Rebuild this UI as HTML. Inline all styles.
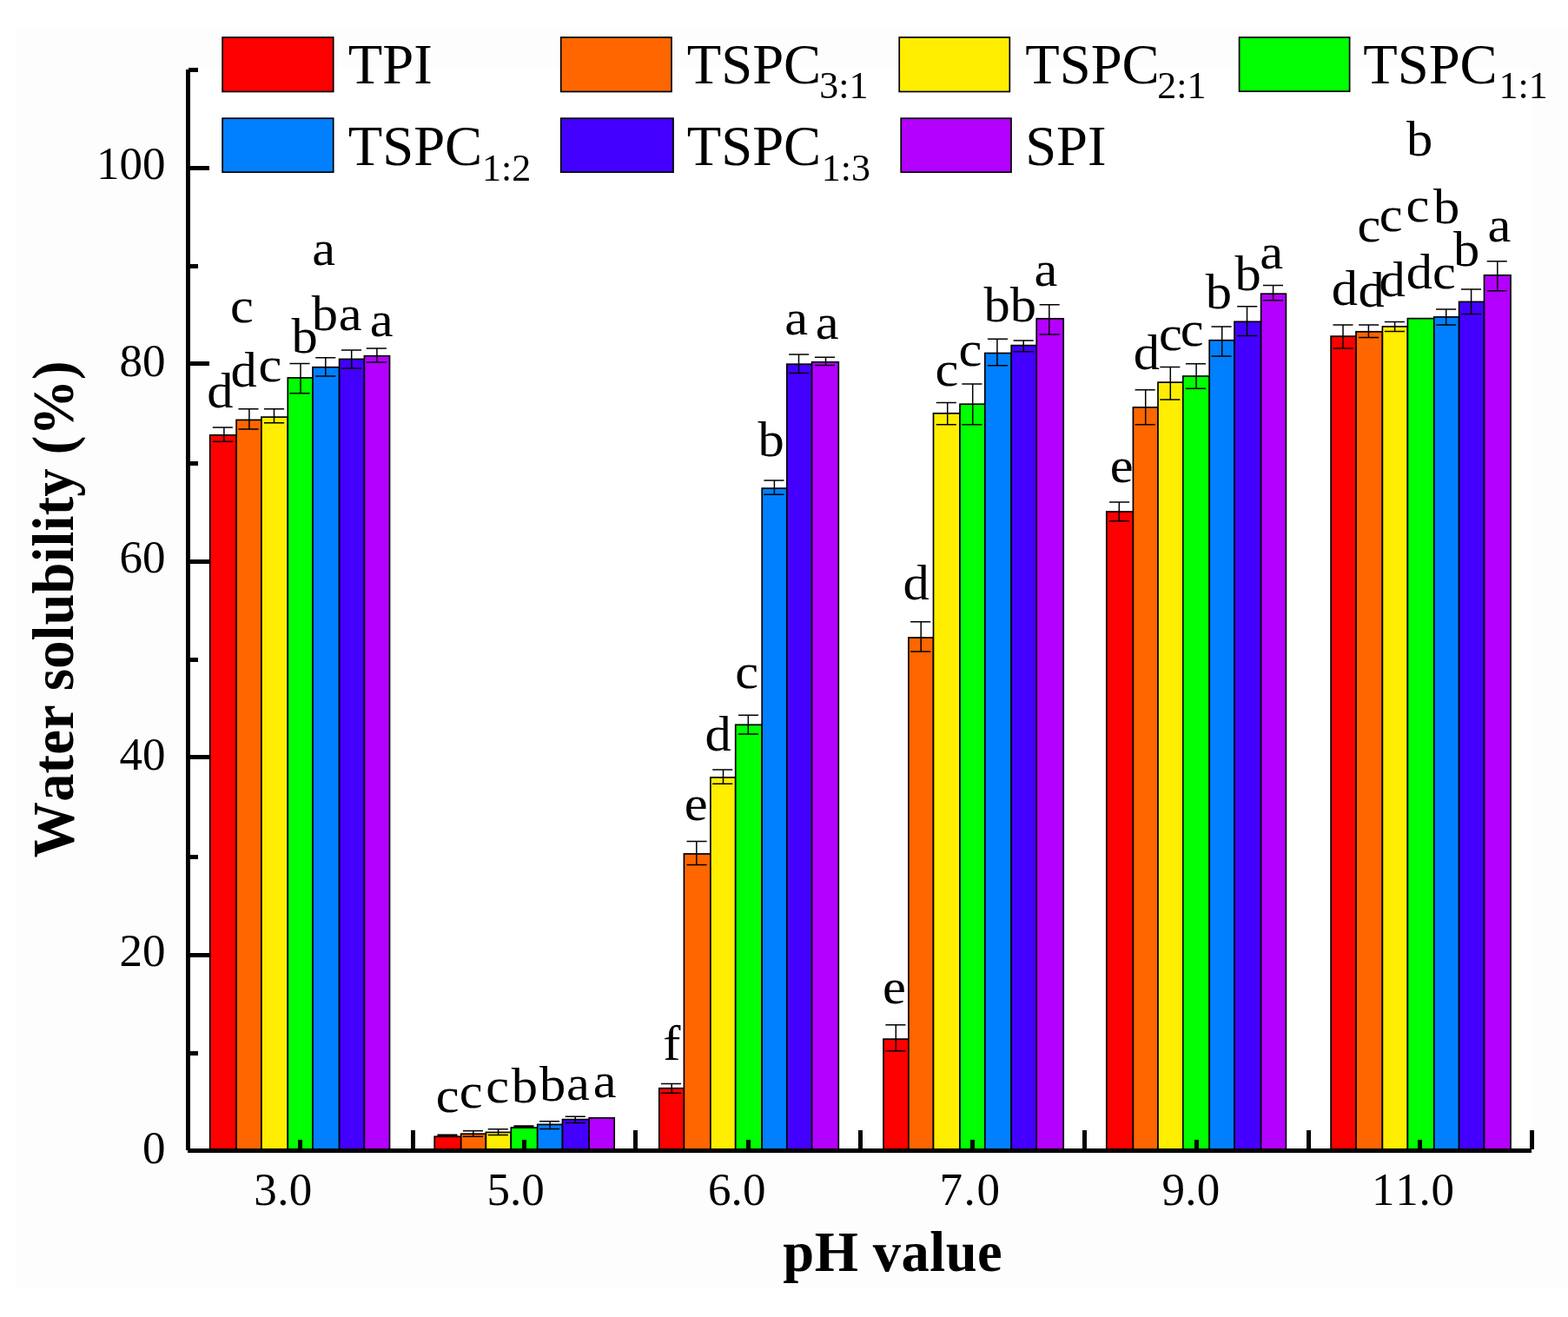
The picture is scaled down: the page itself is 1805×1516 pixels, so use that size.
<!DOCTYPE html>
<html lang="en"><head><meta charset="utf-8"><title>Water solubility vs pH value</title>
<style>html,body{margin:0;padding:0;background:#fff;}body{width:1805px;height:1516px;overflow:hidden;}svg{display:block;}text{font-family:"Liberation Serif",serif;fill:#000;font-kerning:none;}.b{font-weight:bold;}</style></head><body>
<svg width="1805" height="1516" viewBox="0 0 1805 1516">
<rect x="0" y="0" width="1805" height="1516" fill="#ffffff"/>
<rect x="18" y="32.5" width="1786.5" height="1449.7" fill="#fdfdfd"/>
<rect x="216.6" y="79" width="1546.9" height="1245.6" fill="#ffffff"/>
<g stroke="#000" stroke-width="1.7">
<rect x="241.7" y="500.8" width="30.4" height="823.7" fill="#FF0000"/>
<rect x="272.1" y="483.4" width="28.8" height="841.1" fill="#FF6600"/>
<rect x="300.9" y="480.1" width="30.4" height="844.4" fill="#FFEE00"/>
<rect x="331.3" y="434.9" width="28.7" height="889.6" fill="#00FF00"/>
<rect x="360.0" y="422.7" width="30.6" height="901.8" fill="#0080FF"/>
<rect x="390.6" y="413.4" width="28.8" height="911.1" fill="#4400FF"/>
<rect x="419.4" y="409.7" width="29.1" height="914.8" fill="#B400FF"/>
<rect x="500.2" y="1308.3" width="30.5" height="16.2" fill="#FF0000"/>
<rect x="530.7" y="1305.2" width="28.7" height="19.3" fill="#FF6600"/>
<rect x="559.4" y="1303.4" width="28.9" height="21.1" fill="#FFEE00"/>
<rect x="588.3" y="1298.0" width="30.4" height="26.5" fill="#00FF00"/>
<rect x="618.7" y="1294.4" width="28.8" height="30.1" fill="#0080FF"/>
<rect x="647.5" y="1288.6" width="30.6" height="35.9" fill="#4400FF"/>
<rect x="678.1" y="1286.9" width="29.1" height="37.6" fill="#B400FF"/>
<rect x="758.8" y="1252.7" width="28.6" height="71.8" fill="#FF0000"/>
<rect x="787.4" y="982.9" width="30.5" height="341.6" fill="#FF6600"/>
<rect x="817.9" y="894.9" width="28.8" height="429.6" fill="#FFEE00"/>
<rect x="846.7" y="834.3" width="30.5" height="490.2" fill="#00FF00"/>
<rect x="877.2" y="562.1" width="28.6" height="762.4" fill="#0080FF"/>
<rect x="905.8" y="419.2" width="28.8" height="905.3" fill="#4400FF"/>
<rect x="934.6" y="416.8" width="30.7" height="907.7" fill="#B400FF"/>
<rect x="1017.0" y="1196.1" width="28.9" height="128.4" fill="#FF0000"/>
<rect x="1045.9" y="734.0" width="28.6" height="590.5" fill="#FF6600"/>
<rect x="1074.5" y="475.8" width="30.5" height="848.7" fill="#FFEE00"/>
<rect x="1105.0" y="465.2" width="28.8" height="859.3" fill="#00FF00"/>
<rect x="1133.8" y="406.5" width="30.4" height="918.0" fill="#0080FF"/>
<rect x="1164.2" y="397.6" width="29.0" height="926.9" fill="#4400FF"/>
<rect x="1193.2" y="366.8" width="31.0" height="957.7" fill="#B400FF"/>
<rect x="1273.8" y="589.0" width="30.6" height="735.5" fill="#FF0000"/>
<rect x="1304.4" y="468.9" width="28.6" height="855.6" fill="#FF6600"/>
<rect x="1333.0" y="440.1" width="28.8" height="884.4" fill="#FFEE00"/>
<rect x="1361.8" y="433.0" width="30.4" height="891.5" fill="#00FF00"/>
<rect x="1392.2" y="391.7" width="28.8" height="932.8" fill="#0080FF"/>
<rect x="1421.0" y="370.3" width="30.6" height="954.2" fill="#4400FF"/>
<rect x="1451.6" y="338.2" width="28.8" height="986.3" fill="#B400FF"/>
<rect x="1532.1" y="387.1" width="28.9" height="937.4" fill="#FF0000"/>
<rect x="1561.0" y="381.8" width="30.4" height="942.7" fill="#FF6600"/>
<rect x="1591.4" y="375.9" width="29.0" height="948.6" fill="#FFEE00"/>
<rect x="1620.4" y="366.6" width="30.4" height="957.9" fill="#00FF00"/>
<rect x="1650.8" y="364.9" width="28.8" height="959.6" fill="#0080FF"/>
<rect x="1679.6" y="347.4" width="28.9" height="977.1" fill="#4400FF"/>
<rect x="1708.5" y="316.8" width="30.5" height="1007.7" fill="#B400FF"/>
</g>
<g stroke="#000" stroke-width="1.5" fill="none">
<path d="M244.8 491.9H267.9M244.8 508.2H267.9M257.9 491.9V508.2"/>
<path d="M274.4 470.7H297.5M274.4 494.1H297.5M286.9 470.7V494.1"/>
<path d="M304.0 470.7H327.1M304.0 486.7H327.1M315.5 470.7V486.7"/>
<path d="M333.5 418.6H356.6M333.5 452.8H356.6M346.0 418.6V452.8"/>
<path d="M363.2 411.8H386.3M363.2 433.0H386.3M374.8 411.8V433.0"/>
<path d="M392.9 402.9H416.0M392.9 424.0H416.0M404.7 402.9V424.0"/>
<path d="M421.8 401.0H444.9M421.8 417.0H444.9M433.9 401.0V417.0"/>
<path d="M503.4 1306.3H526.5M503.4 1307.6H526.5M515.6 1306.3V1307.6"/>
<path d="M532.9 1301.7H556.0M532.9 1308.3H556.0M544.8 1301.7V1308.3"/>
<path d="M561.7 1299.7H584.8M561.7 1306.6H584.8M573.6 1299.7V1306.6"/>
<path d="M591.4 1295.9H614.5M591.4 1297.4H614.5M603.2 1295.9V1297.4"/>
<path d="M621.0 1290.8H644.1M621.0 1299.4H644.1M633.1 1290.8V1299.4"/>
<path d="M650.7 1285.3H673.8M650.7 1292.5H673.8M662.2 1285.3V1292.5"/>
<path d="M761.0 1247.5H784.1M761.0 1258.2H784.1M773.2 1247.5V1258.2"/>
<path d="M790.5 968.6H813.6M790.5 995.4H813.6M801.8 968.6V995.4"/>
<path d="M820.2 886.1H843.3M820.2 902.3H843.3M832.5 886.1V902.3"/>
<path d="M849.9 823.3H873.0M849.9 845.0H873.0M861.3 823.3V845.0"/>
<path d="M879.4 553.1H902.5M879.4 569.3H902.5M891.4 553.1V569.3"/>
<path d="M908.1 407.9H931.2M908.1 429.4H931.2M919.5 407.9V429.4"/>
<path d="M937.9 411.3H961.0M937.9 420.5H961.0M950.5 411.3V420.5"/>
<path d="M1019.4 1179.8H1042.5M1019.4 1209.8H1042.5M1031.3 1179.8V1209.8"/>
<path d="M1048.1 715.8H1071.2M1048.1 749.9H1071.2M1060.2 715.8V749.9"/>
<path d="M1077.7 463.6H1100.8M1077.7 488.7H1100.8M1090.7 463.6V488.7"/>
<path d="M1107.3 442.1H1130.4M1107.3 488.7H1130.4M1119.7 442.1V488.7"/>
<path d="M1136.9 390.2H1160.0M1136.9 420.7H1160.0M1147.9 390.2V420.7"/>
<path d="M1166.6 392.1H1189.7M1166.6 404.7H1189.7M1178.2 392.1V404.7"/>
<path d="M1196.6 350.7H1219.7M1196.6 384.9H1219.7M1207.8 350.7V384.9"/>
<path d="M1277.0 578.0H1300.1M1277.0 599.8H1300.1M1288.3 578.0V599.8"/>
<path d="M1306.6 448.8H1329.7M1306.6 488.7H1329.7M1318.7 448.8V488.7"/>
<path d="M1335.3 422.5H1358.4M1335.3 460.1H1358.4M1347.3 422.5V460.1"/>
<path d="M1364.9 418.7H1388.0M1364.9 447.3H1388.0M1377.1 418.7V447.3"/>
<path d="M1394.5 375.9H1417.6M1394.5 410.0H1417.6M1406.7 375.9V410.0"/>
<path d="M1424.2 352.8H1447.3M1424.2 386.6H1447.3M1435.5 352.8V386.6"/>
<path d="M1453.9 328.5H1477.0M1453.9 345.8H1477.0M1465.6 328.5V345.8"/>
<path d="M1534.5 374.0H1557.5M1534.5 401.1H1557.5M1546.0 374.0V401.1"/>
<path d="M1564.1 374.0H1587.2M1564.1 388.6H1587.2M1575.4 374.0V388.6"/>
<path d="M1593.8 370.6H1616.9M1593.8 381.4H1616.9M1605.6 370.6V381.4"/>
<path d="M1653.1 355.9H1676.2M1653.1 374.0H1676.2M1664.7 355.9V374.0"/>
<path d="M1682.0 332.9H1705.0M1682.0 361.6H1705.0M1693.6 332.9V361.6"/>
<path d="M1711.7 300.8H1734.8M1711.7 334.8H1734.8M1723.8 300.8V334.8"/>
</g>
<g stroke="#000" stroke-width="5" fill="none" shape-rendering="crispEdges">
<path d="M216.6 79.6V1324"/>
<path d="M215.9 1324.65H1762.7"/>
<path d="M216.6 1212.2H228.1"/>
<path d="M216.6 1099.4H240.6"/>
<path d="M216.6 986.0H228.1"/>
<path d="M216.6 871.7H240.6"/>
<path d="M216.6 759.5H228.1"/>
<path d="M216.6 646.5H240.6"/>
<path d="M216.6 533.2H228.1"/>
<path d="M216.6 418.5H240.6"/>
<path d="M216.6 306.3H228.1"/>
<path d="M216.6 193.5H240.6"/>
<path d="M216.6 80.5H228.1"/>
<path d="M475.2 1324.5V1300.7"/>
<path d="M731.7 1324.5V1300.7"/>
<path d="M990.2 1324.5V1300.7"/>
<path d="M1248.5 1324.5V1300.7"/>
<path d="M1506.9 1324.5V1300.7"/>
<path d="M1763.8 1323.4V1300.7"/>
<path d="M345.8 1324.5V1311.5"/>
<path d="M603.5 1324.5V1311.5"/>
<path d="M861.1 1324.5V1311.5"/>
<path d="M1119.4 1324.5V1311.5"/>
<path d="M1377.0 1324.5V1311.5"/>
<path d="M1634.7 1324.5V1311.5"/>
</g>
<g font-size="53" text-anchor="end">
<text x="190.6" y="1339.1">0</text>
<text x="190.6" y="1111.7">20</text>
<text x="190.6" y="886.2">40</text>
<text x="190.6" y="658.8">60</text>
<text x="190.6" y="433.3">80</text>
<text x="190.6" y="205.9">100</text>
</g>
<g font-size="53">
<text x="292.2" y="1387.4" style="letter-spacing:0.45px">3.0</text>
<text x="560.6" y="1387.4" style="letter-spacing:0.00px">5.0</text>
<text x="815.0" y="1387.4" style="letter-spacing:0.12px">6.0</text>
<text x="1081.6" y="1387.4" style="letter-spacing:1.53px">7.0</text>
<text x="1337.5" y="1387.4" style="letter-spacing:0.29px">9.0</text>
<text x="1579.1" y="1387.4" style="letter-spacing:0.71px">11.0</text>
</g>
<text class="b" font-size="64.5" x="901.3" y="1462.8" style="letter-spacing:0.47px">pH value</text>
<text class="b" font-size="64.5" transform="translate(84.2 987.4) rotate(-90) scale(1 1.04)" style="letter-spacing:0.12px">Water solubility (%)</text>
<g font-size="56">
<text transform="translate(238.3 469.2) scale(1.08 1)">d</text>
<text transform="translate(265.6 445.2) scale(1.08 1)">d</text>
<text transform="translate(297.5 438.8) scale(1.08 1)">c</text>
<text transform="translate(264.9 371.4) scale(1.08 1)">c</text>
<text transform="translate(335.5 406.4) scale(1.08 1)">b</text>
<text transform="translate(358.7 379.7) scale(1.08 1)">b</text>
<text transform="translate(389.7 379.7) scale(1.08 1)">a</text>
<text transform="translate(425.7 387.1) scale(1.08 1)">a</text>
<text transform="translate(359.2 304.9) scale(1.08 1)">a</text>
<text transform="translate(501.7 1280.4) scale(1.08 1)">c</text>
<text transform="translate(528.7 1275.4) scale(1.08 1)">c</text>
<text transform="translate(559.3 1269.4) scale(1.08 1)">c</text>
<text transform="translate(588.8 1269.4) scale(1.08 1)">b</text>
<text transform="translate(620.9 1267.4) scale(1.08 1)">b</text>
<text transform="translate(652.1 1265.9) scale(1.08 1)">a</text>
<text transform="translate(682.7 1263.1) scale(1.08 1)">a</text>
<text transform="translate(763.2 1220.2) scale(1.08 1)">f</text>
<text transform="translate(787.8 944.2) scale(1.08 1)">e</text>
<text transform="translate(811.6 863.8) scale(1.08 1)">d</text>
<text transform="translate(846.3 791.8) scale(1.08 1)">c</text>
<text transform="translate(872.4 525.2) scale(1.08 1)">b</text>
<text transform="translate(903.2 385.4) scale(1.08 1)">a</text>
<text transform="translate(938.8 389.5) scale(1.08 1)">a</text>
<text transform="translate(1016.0 1155.3) scale(1.08 1)">e</text>
<text transform="translate(1039.5 690.0) scale(1.08 1)">d</text>
<text transform="translate(1076.4 444.4) scale(1.08 1)">c</text>
<text transform="translate(1103.5 421.1) scale(1.08 1)">c</text>
<text transform="translate(1132.5 370.0) scale(1.08 1)">b</text>
<text transform="translate(1162.8 370.0) scale(1.08 1)">b</text>
<text transform="translate(1190.4 328.8) scale(1.08 1)">a</text>
<text transform="translate(1277.8 555.1) scale(1.08 1)">e</text>
<text transform="translate(1304.7 424.7) scale(1.08 1)">d</text>
<text transform="translate(1334.1 403.4) scale(1.08 1)">c</text>
<text transform="translate(1358.7 397.8) scale(1.08 1)">c</text>
<text transform="translate(1387.7 355.2) scale(1.08 1)">b</text>
<text transform="translate(1421.6 333.6) scale(1.08 1)">b</text>
<text transform="translate(1450.3 309.3) scale(1.08 1)">a</text>
<text transform="translate(1532.7 350.6) scale(1.08 1)">d</text>
<text transform="translate(1563.4 352.7) scale(1.08 1)">d</text>
<text transform="translate(1587.6 341.1) scale(1.08 1)">d</text>
<text transform="translate(1618.8 331.6) scale(1.08 1)">d</text>
<text transform="translate(1649.0 331.6) scale(1.08 1)">c</text>
<text transform="translate(1672.9 306.2) scale(1.08 1)">b</text>
<text transform="translate(1712.4 277.7) scale(1.08 1)">a</text>
<text transform="translate(1562.4 277.7) scale(1.08 1)">c</text>
<text transform="translate(1587.7 265.7) scale(1.08 1)">c</text>
<text transform="translate(1618.4 254.9) scale(1.08 1)">c</text>
<text transform="translate(1649.9 256.6) scale(1.08 1)">b</text>
<text transform="translate(1619.1 179.4) scale(1.08 1)">b</text>
</g>
<g stroke="#000" stroke-width="1.7">
<rect x="256.1" y="43.0" width="127.6" height="62.5" fill="#FF0000"/>
<rect x="645.7" y="43.0" width="127.3" height="62.5" fill="#FF6600"/>
<rect x="1035.2" y="43.0" width="127.1" height="62.5" fill="#FFEE00"/>
<rect x="1426.6" y="43.0" width="127.0" height="62.2" fill="#00FF00"/>
<rect x="256.1" y="136.2" width="127.6" height="62.0" fill="#0080FF"/>
<rect x="645.7" y="136.2" width="129.3" height="62.0" fill="#4400FF"/>
<rect x="1037.2" y="136.2" width="126.8" height="62.0" fill="#B400FF"/>
</g>
<text font-size="64.6" x="400.8" y="95.5">TPI</text>
<text font-size="64.6" x="790.8" y="95.5">TSPC</text>
<text font-size="44" x="943.3" y="113.1">3:1</text>
<text font-size="64.6" x="1180.3" y="95.5">TSPC</text>
<text font-size="44" x="1332.2" y="113.1">2:1</text>
<text font-size="64.6" x="1569.3" y="95.5">TSPC</text>
<text font-size="44" x="1725.5" y="113.1">1:1</text>
<text font-size="64.6" x="400.8" y="190.3">TSPC</text>
<text font-size="44" x="555.1" y="207.9">1:2</text>
<text font-size="64.6" x="790.8" y="190.3">TSPC</text>
<text font-size="44" x="945.7" y="207.9">1:3</text>
<text font-size="64.6" x="1180.2" y="190.3">SPI</text>
</svg></body></html>
